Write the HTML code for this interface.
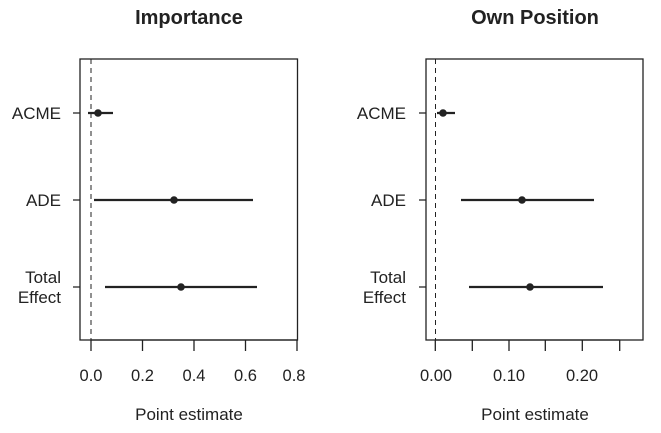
<!DOCTYPE html>
<html><head><style>body{margin:0;background:#fff}</style></head><body>
<svg width="661" height="428" xmlns="http://www.w3.org/2000/svg" font-family="Liberation Sans, Arial, sans-serif" fill="#222">
<g stroke="#222" stroke-width="1.3" fill="none">
<rect x="80" y="59" width="217.5" height="281"/>
<rect x="426" y="59" width="217" height="281"/>
<line x1="91" y1="59" x2="91" y2="340" stroke-dasharray="5,4" stroke-width="1"/>
<line x1="435.5" y1="59" x2="435.5" y2="340" stroke-dasharray="5,4" stroke-width="1"/>
<path d="M91 340V351M142.5 340V351M194 340V351M245.5 340V351M297 340V351M91 340H297"/>
<path d="M435.3 340V351M472.3 340V351M509 340V351M545.3 340V351M582.3 340V351M619.7 340V351M435.3 340H619.7"/>
<path d="M80 113H73M80 200H73M80 287H73M426 113H419M426 200H419M426 287H419"/>
<g stroke-width="2.2">
<path d="M88 113H113M94 200H253M105 287H257"/>
<path d="M437 113H455M461 200H594M469 287H603"/>
</g>
</g>
<g>
<circle cx="98" cy="113" r="3.8"/><circle cx="174" cy="200" r="3.8"/><circle cx="181" cy="287" r="3.8"/>
<circle cx="443" cy="113" r="3.8"/><circle cx="522" cy="200" r="3.8"/><circle cx="530" cy="287" r="3.8"/>
</g>
<g font-size="20" font-weight="bold" text-anchor="middle">
<text x="189" y="24">Importance</text><text x="535" y="24">Own Position</text>
</g>
<g font-size="16.5" text-anchor="middle">
<text x="91" y="381">0.0</text><text x="142.5" y="381">0.2</text><text x="194" y="381">0.4</text><text x="245.5" y="381">0.6</text><text x="294" y="381">0.8</text>
<text x="436" y="381">0.00</text><text x="509" y="381">0.10</text><text x="582" y="381">0.20</text>
<text x="189" y="420" font-size="17">Point estimate</text><text x="535" y="420" font-size="17">Point estimate</text>
</g>
<g font-size="17" text-anchor="end">
<text x="61" y="119">ACME</text><text x="61" y="206">ADE</text><text x="61" y="283">Total</text><text x="61" y="303">Effect</text>
<text x="406" y="119">ACME</text><text x="406" y="206">ADE</text><text x="406" y="283">Total</text><text x="406" y="303">Effect</text>
</g>
</svg>
</body></html>
